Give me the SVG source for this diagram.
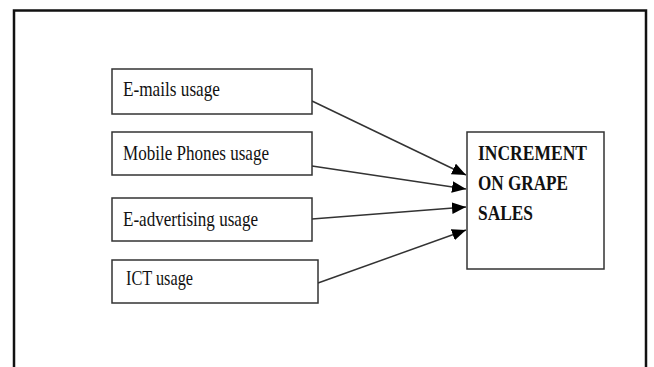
<svg xmlns="http://www.w3.org/2000/svg" width="654" height="367" viewBox="0 0 654 367">
<style>
.box{fill:#fff;stroke:#333;stroke-width:1.5}
.lbl{font-family:"Liberation Serif","Times New Roman",serif;font-size:21px;fill:#111}
.bold{font-family:"Liberation Serif","Times New Roman",serif;font-size:22px;font-weight:bold;fill:#111}
.conn{stroke:#333;stroke-width:1.5;fill:none}
</style>
<defs>
<marker id="arr" markerUnits="userSpaceOnUse" markerWidth="14" markerHeight="12" refX="12" refY="5" orient="auto" viewBox="0 0 12 10">
<path d="M0,0 L12,5 L0,10 Z" fill="#000"/>
</marker>
</defs>
<rect width="654" height="367" fill="#fff"/>
<path id="frame" d="M14,372 L14,10.5 L646,10.5 L646,372" fill="none" stroke="#111" stroke-width="2.5"/>
<g id="connectors">
<line class="conn" x1="312" y1="101" x2="466" y2="175" marker-end="url(#arr)"/>
<line class="conn" x1="312" y1="166" x2="466" y2="189" marker-end="url(#arr)"/>
<line class="conn" x1="312" y1="219" x2="466" y2="207" marker-end="url(#arr)"/>
<line class="conn" x1="318" y1="283" x2="466" y2="230" marker-end="url(#arr)"/>
</g>
<g id="node-emails">
<rect class="box" x="112" y="69" width="200" height="45"/>
<text class="lbl" x="123" y="96" textLength="97" lengthAdjust="spacingAndGlyphs">E-mails usage</text>
</g>
<g id="node-mobile">
<rect class="box" x="112" y="132" width="200" height="43"/>
<text class="lbl" x="123" y="160" textLength="146" lengthAdjust="spacingAndGlyphs">Mobile Phones usage</text>
</g>
<g id="node-eadv">
<rect class="box" x="112" y="198" width="200" height="43"/>
<text class="lbl" x="123" y="226" textLength="135" lengthAdjust="spacingAndGlyphs">E-advertising usage</text>
</g>
<g id="node-ict">
<rect class="box" x="112" y="260" width="206" height="43"/>
<text class="lbl" x="126" y="285" textLength="67" lengthAdjust="spacingAndGlyphs">ICT usage</text>
</g>
<g id="node-increment">
<rect class="box" x="467" y="132" width="137" height="137"/>
<text class="bold" x="478" y="160" textLength="109" lengthAdjust="spacingAndGlyphs">INCREMENT</text>
<text class="bold" x="478" y="190" textLength="90" lengthAdjust="spacingAndGlyphs">ON GRAPE</text>
<text class="bold" x="478" y="220" textLength="55" lengthAdjust="spacingAndGlyphs">SALES</text>
</g>
</svg>
